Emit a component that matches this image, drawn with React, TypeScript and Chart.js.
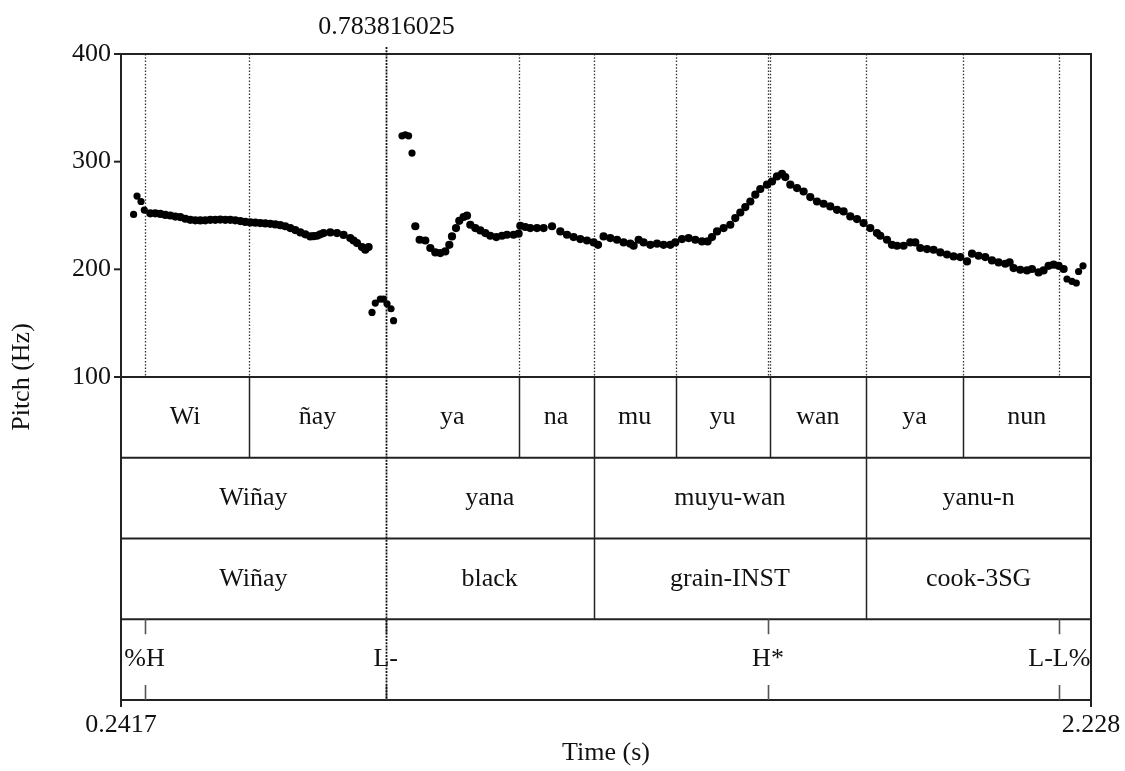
import React, { useEffect, useRef } from 'react';
import { Chart, registerables } from 'chart.js';

Chart.register(...registerables);

// ---- Data ----
// Pitch track [time (s), F0 (Hz)], per voiced stretch
const pitchWinay: [number, number][] = [
  [0.2675, 251], [0.2745, 268], [0.2827, 263], [0.2894, 255], [0.3017, 252],
  [0.3119, 252], [0.3222, 251.5], [0.3324, 250.5], [0.3427, 250], [0.3529, 249],
  [0.3631, 248.5], [0.3734, 247], [0.3836, 246], [0.3938, 245.5], [0.4041, 245.4],
  [0.4143, 245.5], [0.4246, 246], [0.4348, 246], [0.445, 246.2], [0.4553, 246],
  [0.4655, 246], [0.4757, 245.5], [0.486, 244.8], [0.4962, 244], [0.5065, 243.6],
  [0.5167, 243.3], [0.5269, 243], [0.5372, 242.6], [0.5474, 242.3], [0.5577, 241.7],
  [0.5679, 241], [0.5781, 240], [0.5884, 238.3], [0.5986, 236.5], [0.6089, 234.3],
  [0.6191, 232.5], [0.6293, 230.6], [0.636, 230.8], [0.643, 231.2], [0.6498, 232.5],
  [0.6566, 233.7], [0.6703, 234.3], [0.684, 233.7], [0.6975, 232], [0.7112, 229],
  [0.718, 226.8], [0.725, 224.4], [0.7352, 220.7], [0.742, 218.2], [0.7487, 220.7],
];
const pitchGlottal: [number, number][] = [
  [0.7557, 160], [0.7624, 168.7], [0.7727, 172.4], [0.7794, 172.4],
  [0.7864, 168], [0.7946, 163.4], [0.7999, 152.3],
];
const pitchHigh: [number, number][] = [
  [0.8171, 324], [0.8239, 325], [0.8306, 324], [0.8376, 308],
];
const pitchMain: [number, number][] = [
  [0.8444, 240], [0.8532, 227.5], [0.8648, 226.8], [0.8751, 219.8], [0.8853, 215.7],
  [0.8955, 215.1], [0.9058, 216.6], [0.914, 222.8], [0.9195, 230.6], [0.9277, 238.3],
  [0.9344, 245.1], [0.9432, 248.6], [0.9502, 249.8], [0.957, 241.4], [0.9672, 238.3],
  [0.9774, 236.1], [0.9877, 233.7], [0.9979, 231.2], [1.0102, 230], [1.0219, 231.2],
  [1.0321, 232.1], [1.0456, 232.1], [1.0559, 233.1], [1.0594, 240.5], [1.0696, 239.3],
  [1.0798, 238.3], [1.0935, 238.3], [1.1071, 238.3], [1.1243, 240], [1.1413, 235.2],
  [1.155, 232.1], [1.1685, 230], [1.1822, 228.1], [1.1959, 226.8], [1.2095, 225],
  [1.2185, 222.8], [1.2299, 230.6], [1.2437, 229], [1.2574, 227.5], [1.2709, 225],
  [1.2846, 223.8], [1.2914, 221.9], [1.3016, 227.5], [1.3118, 225], [1.3256, 222.8],
  [1.3393, 223.8], [1.3528, 222.8], [1.3665, 222.8], [1.3768, 225], [1.3905, 228.1],
  [1.404, 229], [1.4177, 227.5], [1.4314, 225.9], [1.4429, 225.9], [1.4519, 230],
  [1.4622, 235.2], [1.4757, 238.3], [1.4894, 241.4], [1.4996, 247.6], [1.5099, 252.8],
  [1.5201, 257.8], [1.5304, 263], [1.5406, 269.3], [1.5508, 274.6], [1.5645, 278.6],
  [1.5748, 281.6], [1.585, 286.3], [1.5952, 288.8], [1.602, 285.7], [1.6123, 278.6],
  [1.626, 275.5], [1.6395, 272.3], [1.6532, 267.1], [1.6669, 263], [1.6804, 260.9],
  [1.6941, 258.4], [1.7079, 255.3], [1.7214, 253.8], [1.7351, 249.1], [1.7488, 246.7],
  [1.7623, 243], [1.776, 238.3], [1.7897, 233.7], [1.7965, 231.2], [1.8102, 227.5],
  [1.8204, 222.8], [1.8307, 221.9], [1.8442, 221.9], [1.8579, 225], [1.8682, 225],
  [1.8784, 219.8], [1.8922, 218.8], [1.9057, 218.2], [1.9194, 215.7], [1.9331, 213.8],
  [1.9466, 212], [1.9603, 211.4], [1.9741, 207.3], [1.9843, 214.5], [1.9978, 212.6],
  [2.0115, 211.4], [2.0252, 208.3], [2.0388, 206.4], [2.0525, 205.2], [2.0613, 206.4],
  [2.0695, 201.2], [2.0832, 199.6], [2.0969, 199], [2.1071, 200.3], [2.1207, 197.1],
  [2.1309, 199], [2.1412, 203.3], [2.1514, 204.3], [2.1617, 203.3], [2.1719, 200.3],
];
const pitchFinal: [number, number][] = [
  [2.1788, 191], [2.1891, 188.8], [2.1979, 187.3], [2.2026, 198], [2.2116, 203.3],
];

// Axis range / ticks
const timeMin = 0.2417;
const timeMax = 2.228;
const timeTickLabels = ['0.2417', '2.228'];
const pitchMin = 100;
const pitchMax = 400;
const pitchTicks = [100, 200, 300, 400];
const cursorTime = 0.783816025;
const cursorLabel = '0.783816025';

// TextGrid tiers
const syllableLabels = ['Wi', 'ñay', 'ya', 'na', 'mu', 'yu', 'wan', 'ya', 'nun'];
const syllableBounds = [0.2417, 0.5044, 0.7838, 1.0559, 1.2095, 1.3774, 1.5699, 1.7679, 1.9651, 2.228];
const wordLabels = ['Wiñay', 'yana', 'muyu-wan', 'yanu-n'];
const glossLabels = ['Wiñay', 'black', 'grain-INST', 'cook-3SG'];
const wordBounds = [0.2417, 0.7838, 1.2095, 1.7679, 2.228];
const toneLabels = ['%H', 'L-', 'H*', 'L-L%'];
const toneTimes = [0.29, 0.7838, 1.5666, 2.1631];

const FONT = '"Liberation Serif", "Times New Roman", serif';

const praatPlugin = {
  id: 'praat',
  beforeDatasetsDraw(chart: any) {
    const ctx = chart.ctx;
    const x = chart.scales.x;
    const { top, bottom } = chart.chartArea;
    ctx.save();
    ctx.strokeStyle = '#333';
    ctx.lineWidth = 1.3;
    ctx.setLineDash([1.5, 1.8]);
    const lines = [...syllableBounds.slice(1, -1), ...toneTimes].filter(
      (t) => Math.abs(t - cursorTime) > 0.002
    );
    lines.forEach((t) => {
      const px = Math.round(x.getPixelForValue(t)) + 0.5;
      ctx.beginPath();
      ctx.moveTo(px, top);
      ctx.lineTo(px, bottom);
      ctx.stroke();
    });
    ctx.restore();
  },
  afterDatasetsDraw(chart: any) {
    const ctx = chart.ctx;
    const x = chart.scales.x;
    const y = chart.scales.y;
    const { left, right, top, bottom } = chart.chartArea;
    const tierH = 80.75;
    const frameBottom = bottom + tierH * 4;
    const xp = (t: number) => x.getPixelForValue(t);
    ctx.save();

    // tier horizontal lines and frame
    ctx.strokeStyle = '#222';
    ctx.lineWidth = 2;
    ctx.setLineDash([]);
    ctx.strokeRect(left, top, right - left, frameBottom - top);
    for (let i = 0; i <= 3; i++) {
      const yy = bottom + tierH * i;
      ctx.beginPath();
      ctx.moveTo(left, yy);
      ctx.lineTo(right, yy);
      ctx.stroke();
    }

    // interval boundaries
    ctx.lineWidth = 1.5;
    const drawBounds = (bounds: number[], tierIdx: number) => {
      bounds.slice(1, -1).forEach((t) => {
        if (Math.abs(t - cursorTime) < 0.002) return;
        const px = Math.round(xp(t)) + 0.5;
        ctx.beginPath();
        ctx.moveTo(px, bottom + tierH * tierIdx);
        ctx.lineTo(px, bottom + tierH * (tierIdx + 1));
        ctx.stroke();
      });
    };
    drawBounds(syllableBounds, 0);
    drawBounds(wordBounds, 1);
    drawBounds(wordBounds, 2);

    // tone tier ticks
    ctx.strokeStyle = '#555';
    ctx.lineWidth = 1.6;
    const t4top = bottom + tierH * 3;
    toneTimes.forEach((t) => {
      const px = Math.round(xp(t)) + 0.5;
      ctx.beginPath();
      ctx.moveTo(px, t4top);
      ctx.lineTo(px, t4top + 15);
      ctx.moveTo(px, frameBottom - 15);
      ctx.lineTo(px, frameBottom);
      ctx.stroke();
    });

    // cursor line
    ctx.strokeStyle = '#111';
    ctx.lineWidth = 1.8;
    ctx.setLineDash([2, 1.2]);
    const cx = Math.round(xp(cursorTime)) + 0.5;
    ctx.beginPath();
    ctx.moveTo(cx, top - 7);
    ctx.lineTo(cx, frameBottom);
    ctx.stroke();
    ctx.setLineDash([]);

    // axis ticks
    ctx.strokeStyle = '#222';
    ctx.lineWidth = 2;
    pitchTicks.forEach((v) => {
      const py = y.getPixelForValue(v);
      ctx.beginPath();
      ctx.moveTo(left - 7, py);
      ctx.lineTo(left, py);
      ctx.stroke();
    });
    [timeMin, timeMax].forEach((t) => {
      const px = xp(t);
      ctx.beginPath();
      ctx.moveTo(px, frameBottom);
      ctx.lineTo(px, frameBottom + 7);
      ctx.stroke();
    });

    // texts
    ctx.fillStyle = '#111';
    ctx.font = `26px ${FONT}`;
    ctx.textBaseline = 'middle';
    ctx.textAlign = 'right';
    pitchTicks.forEach((v) => {
      ctx.fillText(String(v), left - 10, y.getPixelForValue(v));
    });
    ctx.textAlign = 'center';
    ctx.fillText(timeTickLabels[0], xp(timeMin), frameBottom + 25);
    ctx.fillText(timeTickLabels[1], xp(timeMax), frameBottom + 25);
    ctx.fillText('Time (s)', (left + right) / 2, frameBottom + 53);
    ctx.fillText(cursorLabel, cx, 27);

    ctx.save();
    ctx.translate(22, (top + frameBottom) / 2);
    ctx.rotate(-Math.PI / 2);
    ctx.fillText('Pitch (Hz)', 0, 0);
    ctx.restore();

    const drawLabels = (labels: string[], bounds: number[], tierIdx: number) => {
      const cy = bottom + tierH * tierIdx + tierH / 2;
      labels.forEach((lab, i) => {
        ctx.fillText(lab, (xp(bounds[i]) + xp(bounds[i + 1])) / 2, cy);
      });
    };
    drawLabels(syllableLabels, syllableBounds, 0);
    drawLabels(wordLabels, wordBounds, 1);
    drawLabels(glossLabels, wordBounds, 2);
    const cy4 = bottom + tierH * 3 + tierH / 2;
    toneLabels.forEach((lab, i) => {
      ctx.fillText(lab, xp(toneTimes[i]), cy4);
    });

    ctx.restore();
  },
};

const toPoints = (seg: [number, number][]) => seg.map(([t, hz]) => ({ x: t, y: hz }));

export default function App() {
  const ref = useRef<HTMLCanvasElement>(null);
  useEffect(() => {
    if (!ref.current) return;
    const chart = new Chart(ref.current, {
      type: 'scatter',
      data: {
        datasets: [
          {
            data: [...toPoints(pitchWinay.slice(4)), ...toPoints(pitchMain)],
            pointRadius: 4.1,
            pointBackgroundColor: '#000',
            pointBorderColor: '#000',
            pointBorderWidth: 0,
          },
          {
            data: [
              ...toPoints(pitchWinay.slice(0, 4)),
              ...toPoints(pitchGlottal),
              ...toPoints(pitchHigh),
              ...toPoints(pitchFinal),
            ],
            pointRadius: 3.6,
            pointBackgroundColor: '#000',
            pointBorderColor: '#000',
            pointBorderWidth: 0,
          },
        ],
      },
      options: {
        animation: false,
        responsive: false,
        devicePixelRatio: 1,
        events: [],
        layout: { padding: { left: 121, top: 54, right: 34, bottom: 394 } },
        plugins: { legend: { display: false }, tooltip: { enabled: false } },
        scales: {
          x: { type: 'linear', min: timeMin, max: timeMax, display: false },
          y: { type: 'linear', min: pitchMin, max: pitchMax, display: false },
        },
      },
      plugins: [praatPlugin],
    } as any);
    return () => chart.destroy();
  }, []);
  return (
    <div style={{ position: 'fixed', left: 0, top: 0, width: 1125, height: 771, background: '#fff' }}>
      <canvas ref={ref} width={1125} height={771} />
    </div>
  );
}
